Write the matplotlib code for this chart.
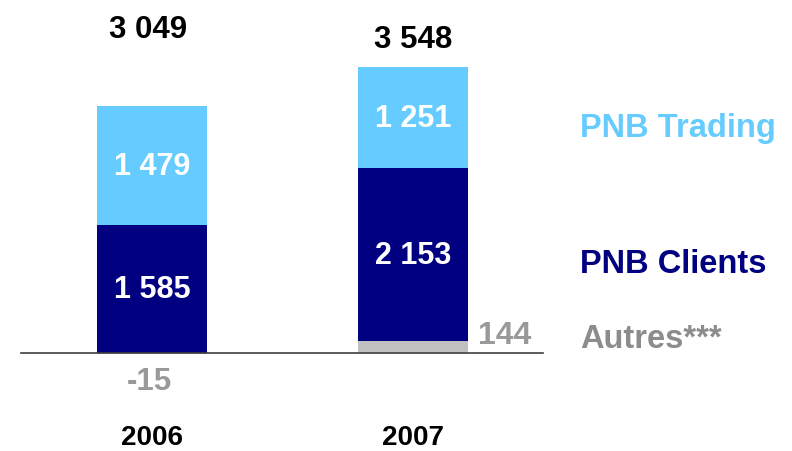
import matplotlib.pyplot as plt

plt.rcParams['font.family'] = ['Liberation Sans', 'DejaVu Sans']

years = ["2006", "2007"]
clients = [1585, 2153]
trading = [1479, 1251]
autres = [-15, 144]
totals = ["3 049", "3 548"]
clients_lbl = ["1 585", "2 153"]
trading_lbl = ["1 479", "1 251"]
autres_lbl = ["-15", "144"]

c_trading = "#66CCFF"
c_clients = "#000080"
c_autres = "#C0C0C0"
c_autres_txt = "#999999"

fig = plt.figure(figsize=(7.92, 4.52), dpi=100)
ax = fig.add_axes([0, 0, 1, 1])
ax.set_xlim(-0.582, 2.452)
ax.set_ylim(-1217, 4398)
ax.axis("off")

x = [0, 1]
w = 0.421
# positive autres sit at the bottom of the stack, negative hangs below axis
base = [max(a, 0) for a in autres]
ax.bar(x, autres, w, color=c_autres)
ax.bar(x, clients, w, bottom=base, color=c_clients)
top = [b + c for b, c in zip(base, clients)]
ax.bar(x, trading, w, bottom=top, color=c_trading)

ax.plot([-0.5, 1.5], [0, 0], color="#404040", lw=1.2)

for i in x:
    ax.text(i, base[i] + clients[i] / 2, clients_lbl[i], ha="center", va="center",
            color="white", fontsize=22, fontweight="bold")
    ax.text(i, top[i] + trading[i] / 2, trading_lbl[i], ha="center", va="center",
            color="white", fontsize=22, fontweight="bold")
    ax.text(i, -1040, years[i], ha="center", va="center", color="black",
            fontsize=20, fontweight="bold")

ax.text(-0.015, 4025, totals[0], ha="center", va="center", fontsize=22.5, fontweight="bold")
ax.text(1, 3900, totals[1], ha="center", va="center", fontsize=22.5, fontweight="bold")

ax.text(-0.01, -348, autres_lbl[0], ha="center", va="center", color=c_autres_txt,
        fontsize=22.5, fontweight="bold")
ax.text(1.248, 220, autres_lbl[1], ha="left", va="center", color=c_autres_txt,
        fontsize=23, fontweight="bold")

ax.text(1.64, 2800, "PNB Trading", ha="left", va="center", color=c_trading,
        fontsize=23.5, fontweight="bold")
ax.text(1.64, 1115, "PNB Clients", ha="left", va="center", color=c_clients,
        fontsize=23.5, fontweight="bold")
ax.text(1.64, 180, "Autres***", ha="left", va="center", color="#8C8C8C",
        fontsize=23.5, fontweight="bold")

fig.savefig("out.png", dpi=100)
